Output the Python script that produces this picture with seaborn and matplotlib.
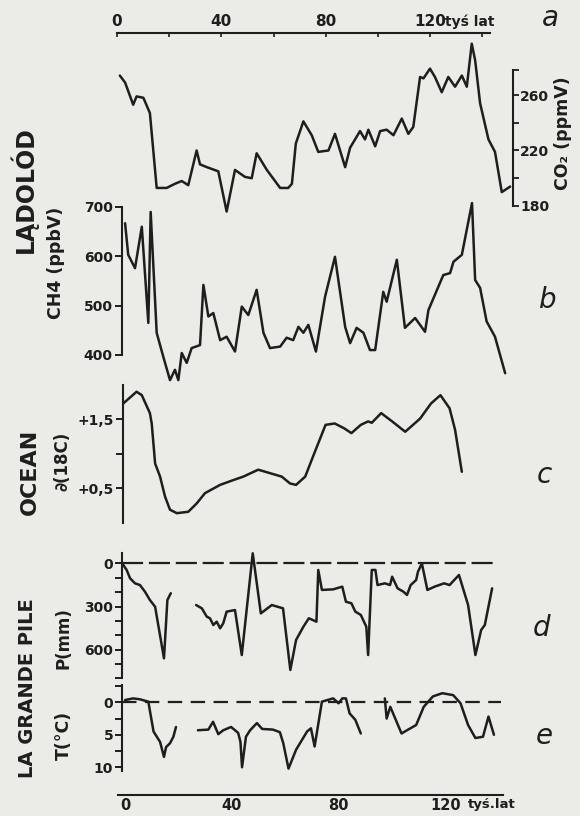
import matplotlib
matplotlib.use("Agg")
import matplotlib.pyplot as plt
import pandas as pd
import seaborn as sns

# ---------------- data (ages in thousands of years) ----------------
co2_age = [1.1, 3.1, 6.2, 7.5, 10.1, 12.6, 15.2, 19.0, 22.2, 24.8, 27.3, 30.5, 31.8, 34.4, 38.8,
           42.0, 45.2, 49.0, 51.6, 53.5, 57.4, 62.5, 65.6, 67.0, 68.5, 71.4, 74.6, 77.1, 81.0, 83.5,
           87.4, 89.3, 93.1, 95.0, 96.3, 98.9, 100.8, 103.3, 105.9, 109.1, 111.6, 113.5, 116.1, 117.4,
           119.9, 121.8, 124.4, 126.9, 129.5, 132.1, 134.0, 135.9, 137.2, 139.1, 142.3, 144.8, 147.4, 150.6]
co2_ppmv = [274, 269, 253, 259, 258, 247, 193, 193, 196, 198, 195, 220, 210, 208, 205,
            176, 206, 201, 200, 218, 206, 193, 193, 196, 225, 241, 231, 219, 220, 232,
            208, 222, 234, 228, 235, 223, 234, 235, 231, 243, 232, 237, 273, 272,
            279, 273, 262, 273, 266, 274, 266, 297, 285, 254, 228, 219, 190, 194]

ch4_age = [3.1, 4.3, 6.9, 9.5, 12.0, 12.9, 15.2, 17.7, 20.3, 22.2, 23.5, 24.8, 26.7, 28.6, 31.8,
           33.1, 35.0, 36.9, 39.5, 42.0, 45.2, 47.8, 50.3, 53.5, 56.1, 58.6, 62.5, 65.0, 67.5, 69.5,
           71.4, 73.3, 76.2, 79.7, 83.5, 87.4, 89.3, 91.8, 94.4, 96.9, 98.9, 102.0, 103.3, 107.2, 110.3,
           114.2, 118.0, 119.3, 125.0, 127.6, 128.9, 132.1, 136.0, 137.2, 139.1, 141.6, 144.8, 148.7]
ch4_ppbv = [667, 603, 576, 660, 465, 690, 445, 397, 349, 370, 349, 404, 384, 414, 420,
            542, 478, 485, 430, 437, 407, 498, 481, 532, 445, 414, 417, 435, 430, 457,
            445, 461, 407, 518, 599, 457, 424, 455, 445, 410, 410, 528, 508, 593, 455,
            475, 447, 491, 562, 566, 589, 603, 708, 552, 536, 468, 437, 363]

ocean_age = [2.4, 7.5, 9.5, 12.6, 13.3, 14.6, 16.5, 18.4, 20.3, 22.9, 27.3, 30.5, 33.7, 39.5, 44.6,
             48.4, 54.1, 58.6, 63.1, 66.3, 68.6, 72.1, 75.6, 79.9, 83.4, 87.0, 89.8, 93.4, 96.2, 97.6,
             101.2, 105.4, 110.4, 116.1, 120.3, 123.9, 127.4, 129.5, 132.1]
ocean_d18 = [1.73, 1.90, 1.85, 1.59, 1.44, 0.86, 0.67, 0.38, 0.19, 0.14, 0.16, 0.28, 0.43, 0.55, 0.62,
             0.67, 0.77, 0.72, 0.67, 0.57, 0.55, 0.67, 1.01, 1.42, 1.44, 1.37, 1.30, 1.42, 1.47, 1.45,
             1.59, 1.47, 1.32, 1.51, 1.73, 1.85, 1.66, 1.35, 0.74]

p_age_1 = [2.4, 3.7, 5.0, 6.9, 8.8, 10.7, 12.6, 14.6, 18.0, 19.3, 20.6]
p_mm_1 = [10, 45, 103, 138, 150, 196, 254, 301, 660, 254, 207]
p_age_2 = [30.3, 32.5, 34.4, 35.6, 36.9, 38.2, 39.5, 40.7, 42.0, 45.2, 47.8, 52.0, 55.1, 59.3, 63.6,
           66.4, 68.6, 71.4, 73.5, 76.4, 77.1, 78.5, 82.8, 86.3, 87.7, 89.8, 91.3, 93.4, 95.5, 96.2,
           97.6, 99.0, 99.8, 102.6, 104.6, 105.4, 107.5, 109.7, 111.1, 112.5, 114.6, 115.3, 116.8, 118.9,
           121.7, 125.3, 127.4, 131.0, 134.5, 137.3, 139.5, 140.9, 143.7]
p_mm_2 = [289, 312, 370, 381, 428, 405, 451, 416, 335, 324, 637, -71, 347, 289, 312,
          741, 532, 440, 381, 405, 45, 184, 180, 161, 266, 277, 335, 358, 440, 637,
          45, 45, 150, 138, 150, 92, 173, 196, 219, 150, 115, 57, 0, 184,
          161, 138, 150, 80, 289, 637, 463, 428, 173]

t_age_1 = [3.1, 6.2, 8.8, 12.0, 14.0, 16.5, 18.0, 18.8, 20.3, 21.6, 22.6]
t_c_1 = [-0.35, -0.6, -0.46, -0.1, 4.5, 6.1, 8.4, 6.9, 6.3, 5.3, 3.8]
t_age_2 = [31.0, 35.0, 36.8, 38.8, 40.7, 43.7, 46.4, 47.3, 47.9, 49.4, 51.0, 53.6, 55.6, 59.7, 62.4,
           63.7, 65.7, 68.6, 72.8, 74.3, 75.7, 78.5, 82.8, 84.9, 86.3, 87.7, 89.1, 91.3, 93.4]
t_c_2 = [4.3, 4.2, 3.0, 4.9, 4.3, 3.8, 4.7, 6.1, 10.0, 5.3, 4.3, 3.2, 4.1, 4.2, 4.6,
         6.3, 10.2, 7.3, 4.5, 4.0, 6.8, -0.1, -0.6, 0.15, -0.6, -0.6, 1.7, 2.7, 4.8]
t_age_3 = [102.6, 103.3, 104.7, 109.0, 111.1, 114.6, 117.5, 121.0, 124.6, 128.8, 131.6, 134.5, 137.3,
           140.2, 142.3, 144.4]
t_c_3 = [-0.6, 2.5, 0.7, 4.8, 4.3, 3.5, 0.7, -0.9, -1.4, -1.1, 0.15, 3.5, 5.5, 5.3, 2.2, 5.0]

age_ticks = [0, 40, 80, 120]
age_minor = [20, 60, 100, 140]
co2_ticks = [180, 220, 260]
ch4_ticks = [400, 500, 600, 700]
ocean_ticks = [0.5, 1.0, 1.5]
ocean_labels = ["+0,5", "", "+1,5"]
p_ticks = [0, 300, 600]
t_ticks = [0, 5, 10]

# ---------------- styling ----------------
sns.set_theme(style="white")
plt.rcParams['font.family'] = ['DejaVu Sans']
plt.rcParams['font.weight'] = 'bold'
INK = '#1e1e1e'
BG = '#ebebe7'
LW = 1.8

W, H = 580, 816
fig = plt.figure(figsize=(W / 100, H / 100), dpi=100)
fig.patch.set_facecolor(BG)

XL = (0, 151.7)


def px_axes(x0, y0, x1, y1):
    ax = fig.add_axes([x0 / W, 1 - y1 / H, (x1 - x0) / W, (y1 - y0) / H])
    ax.patch.set_alpha(0)
    for s in ax.spines.values():
        s.set_visible(False)
        s.set_color(INK)
        s.set_linewidth(1.5)
    return ax


def draw(ax, df, x, y, units=None):
    kw = dict(data=df, x=x, y=y, ax=ax, color=INK, linewidth=LW, legend=False,
              estimator=None, sort=False)
    if units is not None:
        kw['units'] = units
    sns.lineplot(**kw)
    for ln in ax.lines:
        ln.set_clip_on(False)
        ln.set_solid_joinstyle('round')
    ax.set_xlabel('')
    ax.set_ylabel('')
    ax.set_xlim(*XL)


def left_axis(ax, xpos, bounds, ticks, labels=None, minor=None):
    ax.spines['left'].set_visible(True)
    ax.spines['left'].set_position(('data', xpos))
    ax.spines['left'].set_bounds(*bounds)
    ax.set_xticks([])
    ax.set_yticks(ticks)
    if labels is not None:
        ax.set_yticklabels(labels)
    if minor:
        ax.set_yticks(minor, minor=True)
    ax.tick_params(axis='y', which='both', direction='out', length=5, width=1.4,
                   color=INK, labelsize=10, pad=1.5, left=True, right=False, labelcolor=INK)


# ---- panel a: CO2 ----
ax_a = px_axes(117, 33, 513, 220)
draw(ax_a, pd.DataFrame({'age': co2_age, 'co2': co2_ppmv}), 'age', 'co2')
ax_a.set_ylim(169.9, 304.7)
ax_a.spines['top'].set_visible(True)
ax_a.spines['top'].set_bounds(0, 143)
ax_a.xaxis.set_ticks_position('top')
ax_a.set_xticks(age_ticks)
ax_a.set_xticks(age_minor, minor=True)
ax_a.set_xticklabels([str(v) for v in age_ticks])
ax_a.tick_params(axis='x', which='both', direction='in', length=3, width=1.2, pad=3,
                 labelsize=11, top=True, bottom=False, labeltop=True, labelbottom=False,
                 color=INK, labelcolor=INK)
ax_a.annotate('tyś lat', xy=(125.5, 1.0), xycoords=('data', 'axes fraction'),
              xytext=(0, 3), textcoords='offset points', ha='left', va='bottom',
              fontsize=10, fontweight='bold', color=INK)
ax_a.spines['right'].set_visible(True)
ax_a.spines['right'].set_bounds(180, 278)
ax_a.yaxis.set_ticks_position('right')
ax_a.set_yticks(co2_ticks)
ax_a.set_yticks([200, 240, 278], minor=True)
ax_a.tick_params(axis='y', which='both', direction='out', length=4, width=1.3, pad=1,
                 labelsize=10, right=True, left=False, labelright=True, labelleft=False,
                 color=INK, labelcolor=INK)

# ---- panel b: CH4 ----
ax_b = px_axes(117, 195, 513, 390)
draw(ax_b, pd.DataFrame({'age': ch4_age, 'ch4': ch4_ppbv}), 'age', 'ch4')
ax_b.set_ylim(329.0, 724.3)
left_axis(ax_b, 1.8, (400, 700), ch4_ticks)

# ---- panel c: ocean d18O ----
ax_c = px_axes(117, 380, 513, 530)
draw(ax_c, pd.DataFrame({'age': ocean_age, 'd18': ocean_d18}), 'age', 'd18')
ax_c.set_ylim(-0.104, 2.070)
left_axis(ax_c, 2.4, (0.0, 2.0), ocean_ticks, ocean_labels)

# ---- panel d: precipitation ----
ax_d = px_axes(117, 545, 513, 685)
df_p = pd.DataFrame({'age': p_age_1 + p_age_2, 'p': p_mm_1 + p_mm_2,
                     'seg': [1] * len(p_age_1) + [2] * len(p_age_2)})
draw(ax_d, df_p, 'age', 'p', units='seg')
ax_d.hlines(0, 1.8, 146, colors=INK, linewidth=1.6, linestyles=(0, (9.5, 2.6)))
ax_d.set_ylim(845.5, -128.7)
left_axis(ax_d, 1.8, (-75, 800), p_ticks, minor=[100, 200, 400, 500, 700, 800])

# ---- panel e: temperature ----
ax_e = px_axes(117, 683, 513, 778)
df_t = pd.DataFrame({'age': t_age_1 + t_age_2 + t_age_3, 't': t_c_1 + t_c_2 + t_c_3,
                     'seg': [1] * len(t_age_1) + [2] * len(t_age_2) + [3] * len(t_age_3)})
draw(ax_e, df_t, 'age', 't', units='seg')
ax_e.hlines(0, 2.0, 147, colors=INK, linewidth=1.6, linestyles=(0, (6.5, 3.8)))
ax_e.set_ylim(11.65, -2.97)
left_axis(ax_e, 2.0, (-2.7, 10.5), t_ticks, minor=[-2.5, 2.5, 7.5])

# ---- bottom age axis ----
ax_x = px_axes(118, 794, 503, 795)
ax_x.set_xlim(-2.62, 141.57)
ax_x.set_yticks([])
ax_x.spines['bottom'].set_visible(True)
ax_x.set_xticks(age_ticks)
ax_x.set_xticks(age_minor, minor=True)
ax_x.set_xticklabels([str(v) for v in age_ticks])
ax_x.tick_params(axis='x', which='both', direction='in', length=3, width=1.2, pad=2,
                 labelsize=10.5, color=INK, labelcolor=INK)
ax_x.annotate('tyś.lat', xy=(128.3, 0), xycoords=('data', 'axes fraction'),
              xytext=(0, -2.5), textcoords='offset points', ha='left', va='top',
              fontsize=9.5, fontweight='bold', color=INK)

# ---------------- labels ----------------
def ftext(x, y, s, size, rot=90, **kw):
    fig.text(x / W, 1 - y / H, s, rotation=rot, ha='center', va='center',
             fontsize=size, color=INK, **kw)


ftext(24, 190, 'LĄDOLÓD', 17, fontweight='bold')
ftext(56, 263, 'CH4 (ppbV)', 12.5, fontweight='bold')
ftext(30, 472, 'OCEAN', 16, fontweight='bold')
ftext(62, 461, '∂(18C)', 12, fontweight='bold')
ftext(28, 688, 'LA GRANDE PILE', 14, fontweight='bold')
ftext(63, 638, 'P(mm)', 12, fontweight='bold')
ftext(64, 735, 'T(°C)', 12.5, fontweight='bold')
ftext(563, 133, 'CO₂ (ppmV)', 12.5, fontweight='bold')

for letter, (lx, ly) in zip('abcde', [(550, 18), (548, 300), (544, 475), (542, 628), (544, 736)]):
    ftext(lx, ly, letter, 20, rot=0, fontstyle='italic', fontweight='normal')

fig.savefig('out.png', dpi=100, facecolor=BG)
